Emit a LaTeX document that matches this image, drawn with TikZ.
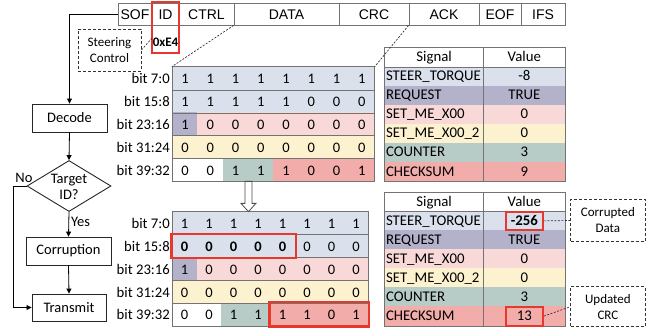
\documentclass[tikz,border=0pt]{standalone}
\usepackage{fontspec}
\setmainfont{Carlito}
\newfontfamily\framefont{Liberation Sans}
\usetikzlibrary{arrows.meta,shapes.geometric,fit}

\definecolor{cblue}{HTML}{DAE1EC}
\definecolor{cpurple}{HTML}{B4B1CB}
\definecolor{cpink}{HTML}{F9D9D7}
\definecolor{cyellow}{HTML}{FDF2D0}
\definecolor{cgreen}{HTML}{B7CCC7}
\definecolor{csalmon}{HTML}{F2ACA9}
\definecolor{cred}{HTML}{E8382D}

\newcommand{\fsz}[2]{\fontsize{#1}{#2}\selectfont}

% one row of the data field: name, y, column width, label, cells
\newcommand{\bitrow}[5]{%
  \node[bitlbl] (#1-l) at (170,#2) {#4};
  \foreach \val/\clr [count=\col] in {#5}
    \node[bit, fill=\clr, minimum width=#3+0.4] (#1-\col) at ({172.3+(\col-0.5)*#3},#2) {\val};
  }

% signal / value table: name, top, rows
\newcommand{\sigtable}[3]{%
  \node[signame, align=center, fill=white] (#1-n0) at (434.15,{#2+9.5}) {Signal};
  \node[sigval, fill=white] (#1-v0) at (524.3,{#2+9.5}) {Value};
  \foreach \sname/\sval/\clr [count=\row] in {#3} {
    \node[signame, fill=\clr] (#1-n\row) at (434.15,{#2+(\row+0.5)*19.05}) {\sname};
    \node[sigval, fill=\clr] (#1-v\row) at (524.3,{#2+(\row+0.5)*19.05}) {\sval};
  }
  \draw[tabline] (#1-n0.north west) rectangle (#1-v6.south east);
  \draw[tabline] (#1-n0.south west) -- (#1-v0.south east);
  \draw[tabline] (#1-v0.north west) -- (#1-v6.south west);
  }

\begin{document}
\begin{tikzpicture}[x=1pt, y=-1pt, >={Triangle[length=5pt,width=5pt]},
  every node/.style={inner sep=0pt},
  field/.style={draw=black!55, line width=0.8pt, minimum height=22, text height=10, text depth=0, font=\framefont\fsz{14}{16}},
  block/.style={draw=black!85, line width=0.9pt, font=\fsz{14.5}{16}},
  decision/.style={diamond, draw=black!85, line width=0.9pt, minimum width=84, minimum height=51},
  bit/.style={minimum height=23.1, text height=13, text depth=2, font=\fsz{14.5}{16}},
  bitlbl/.style={anchor=east, text height=13, text depth=2, font=\fsz{14.7}{16}},
  signame/.style={text width=96.3, inner xsep=1pt, minimum height=19.3, text height=11, text depth=2, align=left, font=\fsz{14.8}{16}},
  sigval/.style={minimum width=82.3, minimum height=19.3, text height=11, text depth=2, font=\fsz{14.8}{16}},
  tabline/.style={draw=black!55, line width=0.8pt},
  redbox/.style={draw=cred, line width=2.2pt, inner sep=0.5pt},
  notebox/.style={draw=black!80, line width=0.8pt, dash pattern=on 3pt off 2pt, align=center, font=\fsz{13}{16}},
  link/.style={draw=black!80, line width=0.7pt, dash pattern=on 2pt off 1.5pt}]

\useasboundingbox (0,0) rectangle (656,335);

% CAN frame
\foreach \fname/\x/\w in {SOF/135/34, ID/165.5/27, CTRL/206.5/55, DATA/286.5/105, CRC/374/70, ACK/444/70, EOF/500/42, IFS/543/44}
  \node[field, minimum width=\w] (\fname) at (\x,14) {\fname};
\node[font=\bfseries\fsz{13}{16}] (idval) at (165.5,42) {0xE4};
\node[redbox, minimum width=27, minimum height=51] (idbox) at (165.5,27.5) {};
\node[notebox, minimum width=63, minimum height=42] (steer) at (109.5,50) {Steering\\Control};
\draw[link] (steer.east) -- (idval.north west);

% flow chart
\node[block, minimum width=75, minimum height=28] (decode) at (69.5,118) {Decode};
\node[decision] (target) at (69,186) {};
\node[align=center, font=\fsz{14.5}{16}] (targetid) at (69,187) {Target\\ID?};
\node[block, minimum width=85, minimum height=28] (corruption) at (68.5,251) {Corruption};
\node[block, minimum width=74, minimum height=27] (transmit) at (69,307.5) {Transmit};
\draw[->, line width=0.8pt] (SOF.west) -| (decode.north);
\draw[->, line width=0.8pt] (decode.south) -- (target.north);
\draw[->, line width=0.8pt] (target.south) -- node[right, pos=0.42, xshift=2pt, font=\fsz{14.5}{16}] (yes) {Yes} (corruption.north);
\draw[->, line width=0.8pt] (corruption.south) -- (transmit.north);
\draw[->, line width=0.8pt] (target.west) -- node[above, pos=0.2, yshift=3pt, font=\fsz{14.5}{16}] (no) {No} ++(-13,0) |- (transmit.west);

% original data field
\bitrow{a1}{78.4}{25.25}{bit 7:0}{1/cblue,1/cblue,1/cblue,1/cblue,1/cblue,1/cblue,1/cblue,1/cblue}
\bitrow{a2}{101.2}{25.25}{bit 15:8}{1/cblue,1/cblue,1/cblue,1/cblue,1/cblue,0/cblue,0/cblue,0/cblue}
\bitrow{a3}{124}{25.25}{bit 23:16}{1/cpurple,0/cpink,0/cpink,0/cpink,0/cpink,0/cpink,0/cpink,0/cpink}
\bitrow{a4}{146.8}{25.25}{bit 31:24}{0/cyellow,0/cyellow,0/cyellow,0/cyellow,0/cyellow,0/cyellow,0/cyellow,0/cyellow}
\bitrow{a5}{169.6}{25.25}{bit 39:32}{0/white,0/white,1/cgreen,1/cgreen,1/csalmon,0/csalmon,0/csalmon,1/csalmon}
\draw[tabline] (a1-1.north west) rectangle (a5-8.south east);
\foreach \r in {1,2,3,4}
  \draw[tabline] (a\r-1.south west) -- (a\r-8.south east);

% corrupted data field
\bitrow{b1}{223.1}{24.5}{bit 7:0}{1/cblue,1/cblue,1/cblue,1/cblue,1/cblue,1/cblue,1/cblue,1/cblue}
\bitrow{b2}{245.9}{24.5}{bit 15:8}{{\textbf{0}}/cblue,{\textbf{0}}/cblue,{\textbf{0}}/cblue,{\textbf{0}}/cblue,{\textbf{0}}/cblue,0/cblue,0/cblue,0/cblue}
\bitrow{b3}{268.7}{24.5}{bit 23:16}{1/cpurple,0/cpink,0/cpink,0/cpink,0/cpink,0/cpink,0/cpink,0/cpink}
\bitrow{b4}{291.5}{24.5}{bit 31:24}{0/cyellow,0/cyellow,0/cyellow,0/cyellow,0/cyellow,0/cyellow,0/cyellow,0/cyellow}
\bitrow{b5}{314.3}{24.5}{bit 39:32}{0/white,0/white,1/cgreen,1/cgreen,1/csalmon,1/csalmon,0/csalmon,1/csalmon}
\draw[tabline] (b1-1.north west) rectangle (b5-8.south east);
\foreach \r in {1,2,3,4}
  \draw[tabline] (b\r-1.south west) -- (b\r-8.south east);
\node[redbox, fit=(b2-1)(b2-5)] (badbits) {};
\node[redbox, fit=(b5-5)(b5-8)] (crcbits) {};

% hollow arrow between the two fields
\coordinate (dn) at (a5-3.south east);
\draw[draw=black!70, line width=0.8pt, fill=white] (dn) ++(-3.5,0) -- ++(0,22) -- ++(-4,0) -- ++(7.5,8.3) -- ++(7.5,-8.3) -- ++(-4,0) -- ++(0,-22) -- cycle;

% signal tables
\sigtable{sa}{47.7}{STEER\_TORQUE/-8/cblue, REQUEST/TRUE/cpurple, SET\_ME\_X00/0/cpink, SET\_ME\_X00\_2/0/cyellow, COUNTER/3/cgreen, CHECKSUM/9/csalmon}
\sigtable{sb}{192.3}{STEER\_TORQUE/{\textbf{-256}}/cblue, REQUEST/TRUE/cpurple, SET\_ME\_X00/0/cpink, SET\_ME\_X00\_2/0/cyellow, COUNTER/3/cgreen, CHECKSUM/13/csalmon}
\node[redbox, minimum width=37, minimum height=18] (hit) at (sb-v1) {};
\node[redbox, minimum width=37, minimum height=19] (sum) at (sb-v6) {};

% notes
\node[notebox, minimum width=74.3, minimum height=42.4] (corrupted) at (607.9,220.5) {Corrupted\\Data};
\node[notebox, minimum width=74.3, minimum height=40] (updated) at (607.9,306.7) {Updated\\CRC};
\draw[link] (hit.east) -- (corrupted.west);
\draw[link] (sum.east) -- (updated.west);

% zoom lines from the frame
\draw[link] (DATA.south west) -- (a1-1.north west);
\draw[link] (ACK.south west) -- (a1-8.north east);
\end{tikzpicture}
\end{document}
